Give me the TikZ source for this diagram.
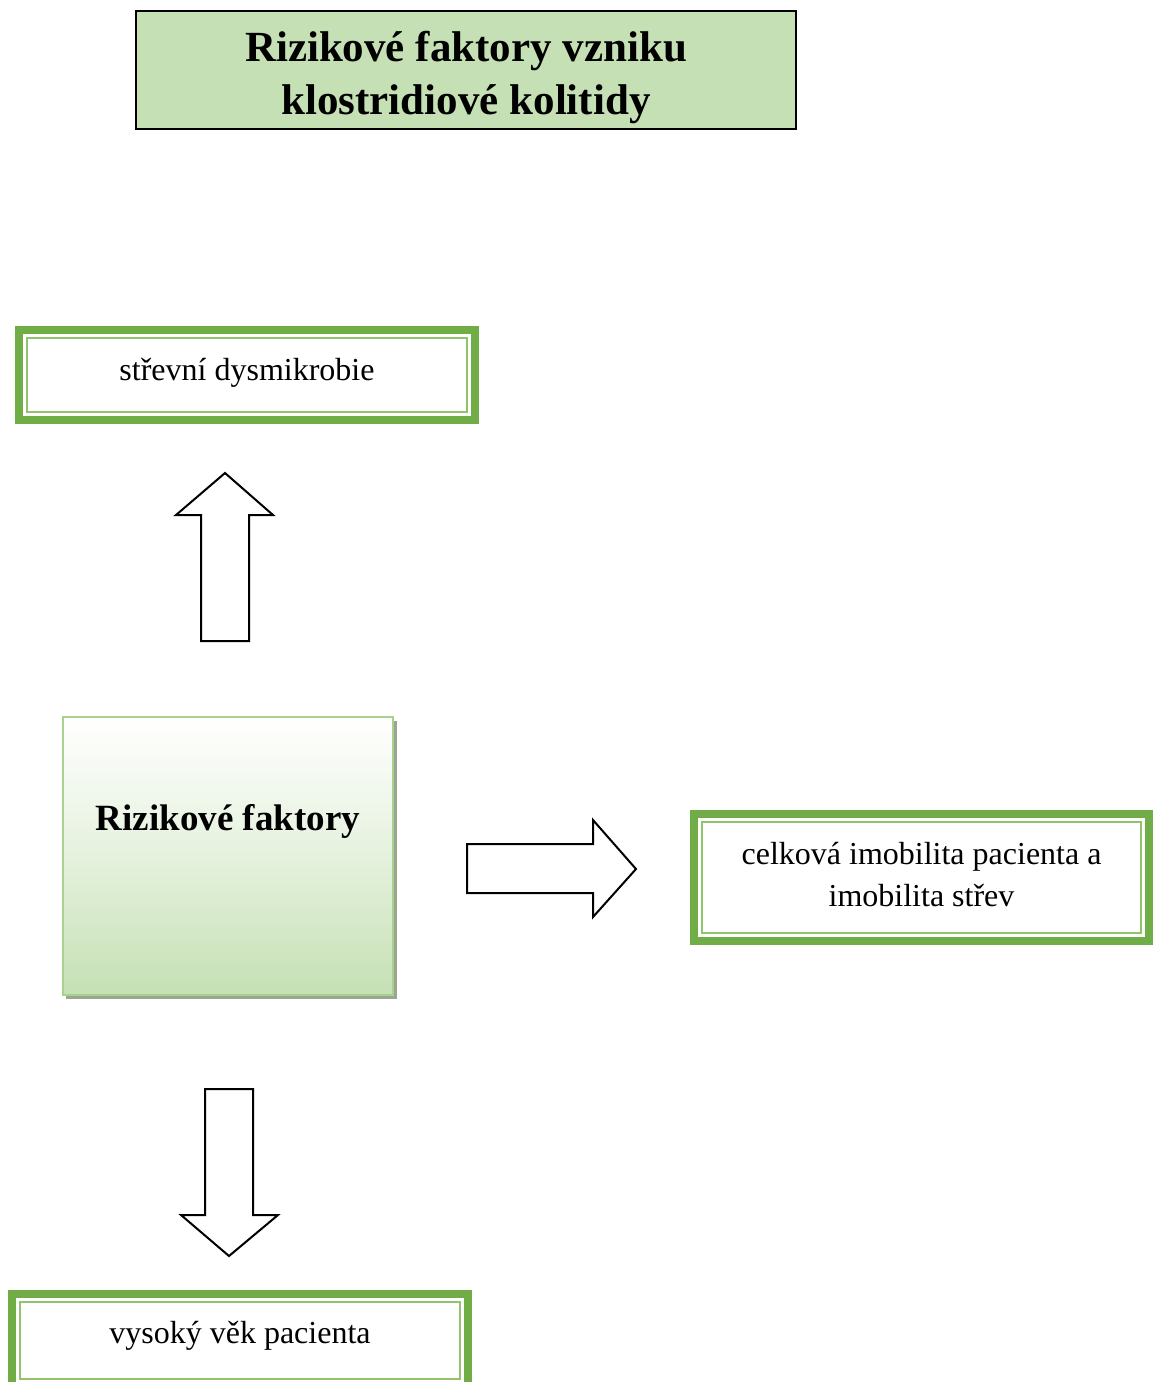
\documentclass[tikz,border=0pt]{standalone}
\usepackage{fontspec}
\setmainfont{Liberation Serif}
\definecolor{titlefill}{HTML}{C5E0B4}
\definecolor{frame}{HTML}{70AD47}
\definecolor{frameinner}{HTML}{8FC46A}
\definecolor{softedge}{HTML}{A9D18E}
\definecolor{shadowcol}{HTML}{9CA58F}
\tikzset{
  titlebox/.style={draw=black, line width=2pt, fill=titlefill, inner sep=0pt,
    outer sep=0pt, minimum width=660pt, minimum height=118pt},
  titletext/.style={inner sep=0pt, align=center,
    font=\fontsize{43}{53}\selectfont\bfseries},
  factorbox/.style={draw=frame, line width=8pt, fill=white, inner sep=0pt,
    outer sep=0pt, align=center, font=\fontsize{32}{42}\selectfont},
  innerframe/.style={draw=frameinner, line width=2pt},
  mainbox/.style={draw=softedge, line width=2pt, inner sep=0pt, outer sep=0pt,
    top color=white, bottom color=titlefill, middle color=titlefill!45!white,
    minimum width=330pt, minimum height=278pt},
  blockarrow/.style={draw=black, line width=2pt, fill=white, line join=miter},
}
% shift text vertically without changing its box size
\newcommand{\lift}[2]{\raisebox{#1}[\height][\depth]{#2}}
\begin{document}
\begin{tikzpicture}[x=1pt, y=-1pt]
\useasboundingbox (0,0) rectangle (1158,1382);
\clip (0,0) rectangle (1158,1382);

% title
\node[titlebox] (title) at (466,70) {};
\node[titletext] (titletext) at (466,77) {Rizikové faktory vzniku\\klostridiové kolitidy};

% central box with drop shadow
\fill[shadowcol] (66,721) rectangle (397,999);
\node[mainbox] (rf) at (228,856) {};
\node[font=\fontsize{37}{44}\selectfont\bfseries] (rftext) at (228,821) {Rizikové faktory};

% factor boxes: thick outer frame plus thin inner frame
\node[factorbox, minimum width=456pt, minimum height=90pt] (dys) at (247,375)
  {\lift{2pt}{střevní dysmikrobie}};
\draw[innerframe] ([shift={(8,8)}]dys.north west) rectangle ([shift={(-8,-8)}]dys.south east);

\node[factorbox, minimum width=455pt, minimum height=127pt] (imob) at (921.5,877.5)
  {\begin{tabular}{@{}c@{}}celková imobilita pacienta a\\imobilita střev\end{tabular}};
\draw[innerframe] ([shift={(8,8)}]imob.north west) rectangle ([shift={(-8,-8)}]imob.south east);

\node[factorbox, minimum width=456pt, minimum height=93pt] (vek) at (240,1340.5)
  {\lift{5pt}{vysoký věk pacienta}};
\draw[innerframe] ([shift={(8,8)}]vek.north west) rectangle ([shift={(-8,-8)}]vek.south east);

% block arrows
\draw[blockarrow] (201,641) -- (201,515) -- (176,515) -- (225,473) -- (273,515)
  -- (249,515) -- (249,641) -- cycle;
\draw[blockarrow] (467,844) -- (593,844) -- (593,820) -- (636,869) -- (593,917)
  -- (593,893) -- (467,893) -- cycle;
\draw[blockarrow] (205,1089) -- (253,1089) -- (253,1215) -- (278,1215) -- (229,1256)
  -- (181,1215) -- (205,1215) -- cycle;
\end{tikzpicture}
\end{document}
